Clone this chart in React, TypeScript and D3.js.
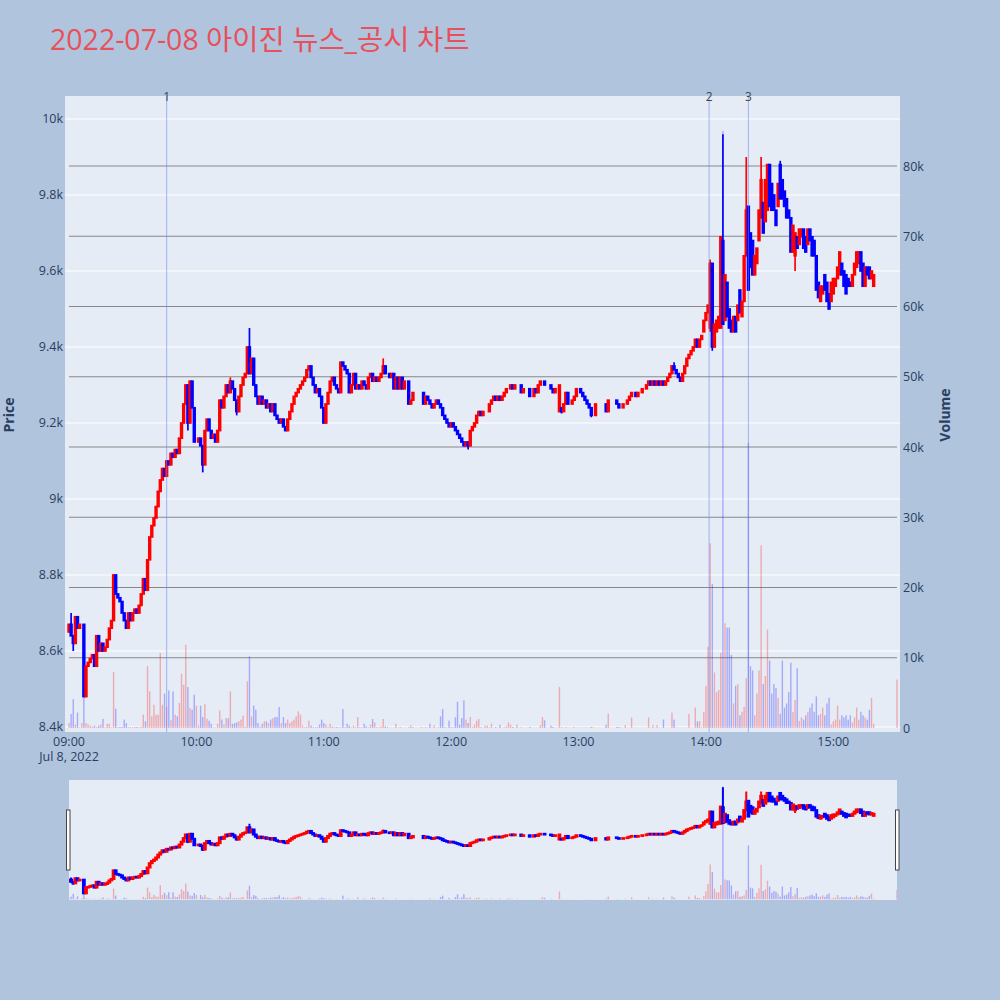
import React from "react";
import * as d3 from "d3";

// ---- Data: 1-minute candles from 09:00 (index = minutes after 09:00) ----
const TITLE = "2022-07-08 아이진 뉴스_공시 차트";
const SESSION_DATE = [2022, 6, 8];

const opens: number[] = [
  8650, 8670, 8640, 8620, 8690, 8660, 8670, 8670, 8480, 8560,
  8570, 8580, 8590, 8560, 8640, 8600, 8620, 8600, 8610, 8630,
  8660, 8680, 8800, 8750, 8740, 8730, 8700, 8680, 8660, 8700,
  8680, 8700, 8710, 8700, 8720, 8750, 8790, 8760, 8840, 8900,
  8930, 8950, 8980, 9020, 9050, 9080, 9060, 9100, 9090, 9120,
  9110, 9130, 9120, 9160, 9200, 9250, 9300, 9200, 9310, 9240,
  9150, 9150, 9160, 9140, 9090, 9180, 9210, 9180, 9160, 9170,
  9150, 9180, 9260, 9240, 9270, 9300, 9280, 9310, 9290, 9260,
  9230, 9270, 9300, 9320, 9330, 9400, 9330, 9370, 9300, 9270,
  9250, 9270, 9250, 9260, 9240, 9250, 9230, 9250, 9220, 9210,
  9200, 9210, 9190, 9180, 9210, 9230, 9250, 9270, 9280, 9290,
  9300, 9310, 9320, 9340, 9350, 9320, 9300, 9280, 9290, 9270,
  9240, 9200, 9250, 9280, 9310, 9320, 9300, 9290, 9280, 9360,
  9350, 9340, 9330, 9280, 9300, 9330, 9290, 9300, 9290, 9310,
  9300, 9290, 9320, 9330, 9310, 9320, 9310, 9320, 9330, 9350,
  9330, 9330, 9320, 9330, 9290, 9320, 9290, 9320, 9290, 9310,
  9310, 9250, 9260, 9280, 9280, 9280, 9280, 9280, 9250, 9270,
  9260, 9250, 9240, 9250, 9260, 9250, 9240, 9220, 9210, 9200,
  9190, 9200, 9190, 9180, 9170, 9160, 9150, 9140, 9150, 9140,
  9180, 9190, 9200, 9220, 9230, 9220, 9230, 9230, 9230, 9250,
  9260, 9270, 9260, 9270, 9260, 9270, 9280, 9290, 9290, 9300,
  9290, 9300, 9300, 9300, 9280, 9290, 9290, 9290, 9270, 9270,
  9290, 9280, 9300, 9310, 9310, 9300, 9300, 9300, 9290, 9280,
  9290, 9230, 9240, 9230, 9250, 9280, 9250, 9250, 9260, 9270,
  9290, 9290, 9280, 9270, 9260, 9250, 9240, 9220, 9220, 9250,
  9250, 9250, 9250, 9250, 9230, 9260, 9260, 9260, 9260, 9250,
  9240, 9240, 9250, 9250, 9260, 9270, 9280, 9280, 9270, 9280,
  9280, 9290, 9290, 9300, 9310, 9300, 9310, 9300, 9310, 9300,
  9310, 9300, 9310, 9320, 9330, 9350, 9340, 9330, 9320, 9310,
  9330, 9350, 9370, 9380, 9390, 9400, 9420, 9400, 9420, 9440,
  9470, 9490, 9450, 9620, 9400, 9440, 9450, 9450, 9680, 9470,
  9570, 9500, 9470, 9440, 9480, 9470, 9550, 9480, 9520, 9640,
  9770, 9700, 9680, 9590, 9620, 9680, 9740, 9780, 9730, 9760,
  9880, 9830, 9800, 9760, 9770, 9880, 9840, 9810, 9790, 9760,
  9740, 9650, 9640, 9690, 9670, 9690, 9710, 9690, 9670, 9710,
  9690, 9680, 9640, 9570, 9520, 9540, 9590, 9570, 9540, 9520,
  9540, 9560, 9580, 9590, 9620, 9600, 9590, 9580, 9570, 9560,
  9590, 9610, 9620, 9650, 9620, 9560, 9610, 9610, 9580, 9560,
];

const closes: number[] = [
  8670, 8640, 8620, 8690, 8660, 8670, 8670, 8480, 8560, 8570,
  8580, 8590, 8560, 8640, 8600, 8620, 8600, 8610, 8630, 8660,
  8680, 8800, 8750, 8740, 8730, 8700, 8680, 8660, 8700, 8680,
  8700, 8710, 8700, 8720, 8750, 8790, 8760, 8840, 8900, 8930,
  8950, 8980, 9020, 9050, 9080, 9060, 9100, 9090, 9120, 9110,
  9130, 9120, 9160, 9200, 9250, 9300, 9200, 9310, 9240, 9150,
  9150, 9160, 9140, 9090, 9180, 9210, 9180, 9160, 9170, 9150,
  9180, 9260, 9240, 9270, 9300, 9280, 9310, 9290, 9260, 9230,
  9270, 9300, 9320, 9330, 9400, 9330, 9370, 9300, 9270, 9250,
  9270, 9250, 9260, 9240, 9250, 9230, 9250, 9220, 9210, 9200,
  9210, 9190, 9180, 9210, 9230, 9250, 9270, 9280, 9290, 9300,
  9310, 9320, 9340, 9350, 9320, 9300, 9280, 9290, 9270, 9240,
  9200, 9250, 9280, 9310, 9320, 9300, 9290, 9280, 9360, 9350,
  9340, 9330, 9280, 9300, 9330, 9290, 9300, 9290, 9310, 9300,
  9290, 9320, 9330, 9310, 9320, 9310, 9320, 9330, 9350, 9330,
  9330, 9320, 9330, 9290, 9320, 9290, 9320, 9290, 9310, 9310,
  9250, 9260, 9280, 9280, 9280, 9280, 9280, 9250, 9270, 9260,
  9250, 9240, 9250, 9260, 9250, 9240, 9220, 9210, 9200, 9190,
  9200, 9190, 9180, 9170, 9160, 9150, 9140, 9150, 9140, 9180,
  9190, 9200, 9220, 9230, 9220, 9230, 9230, 9230, 9250, 9260,
  9270, 9260, 9270, 9260, 9270, 9280, 9290, 9290, 9300, 9290,
  9300, 9300, 9300, 9280, 9290, 9290, 9290, 9270, 9270, 9290,
  9280, 9300, 9310, 9310, 9300, 9300, 9300, 9290, 9280, 9290,
  9290, 9300, 9230, 9250, 9280, 9250, 9250, 9260, 9270, 9290,
  9290, 9280, 9270, 9260, 9250, 9240, 9220, 9220, 9250, 9250,
  9250, 9250, 9250, 9230, 9260, 9260, 9260, 9260, 9250, 9240,
  9240, 9250, 9250, 9260, 9270, 9280, 9280, 9270, 9280, 9280,
  9290, 9290, 9300, 9310, 9300, 9310, 9300, 9310, 9300, 9310,
  9300, 9310, 9320, 9330, 9350, 9340, 9330, 9320, 9310, 9330,
  9350, 9370, 9380, 9390, 9400, 9420, 9400, 9420, 9430, 9470,
  9490, 9510, 9620, 9400, 9460, 9470, 9480, 9690, 9460, 9590,
  9480, 9450, 9440, 9480, 9440, 9510, 9490, 9520, 9640, 9760,
  9550, 9610, 9590, 9640, 9660, 9760, 9840, 9700, 9840, 9880,
  9770, 9760, 9760, 9720, 9830, 9790, 9790, 9770, 9740, 9740,
  9650, 9720, 9700, 9660, 9710, 9710, 9660, 9650, 9710, 9680,
  9640, 9640, 9550, 9530, 9560, 9560, 9550, 9520, 9500, 9570,
  9580, 9580, 9610, 9650, 9590, 9560, 9540, 9560, 9560, 9590,
  9620, 9650, 9650, 9600, 9560, 9610, 9590, 9580, 9600, 9590,
];

const volumes: number[] = [
  700, 2000, 4100, 500, 2200, 100, 700, 4300, 700, 500,
  350, 200, 350, 150, 350, 500, 1300, 100, 600, 600,
  100, 8000, 2750, 100, 150, 150, 1200, 700, 150, 100,
  100, 150, 150, 100, 200, 1900, 950, 8800, 5200, 1660,
  3300, 1900, 1900, 10700, 3300, 4900, 3000, 5350, 1100, 5200,
  1900, 1660, 3550, 7700, 6160, 11850, 5830, 2840, 2600, 4740,
  3180, 350, 3180, 1560, 3400, 1330, 1040, 600, 100, 50,
  600, 2500, 1200, 500, 1400, 1400, 5200, 600, 700, 800,
  950, 1200, 1750, 200, 6640, 10200, 1660, 3180, 2600, 700,
  200, 600, 950, 950, 700, 1200, 1400, 1560, 1560, 3000,
  700, 1560, 700, 1200, 700, 950, 1200, 1660, 2370, 1900,
  350, 100, 200, 1040, 350, 100, 100, 150, 500, 1200,
  700, 500, 150, 600, 250, 100, 150, 100, 100, 2700,
  100, 600, 330, 100, 330, 100, 1560, 100, 100, 600,
  250, 100, 470, 1280, 800, 100, 100, 250, 1280, 250,
  150, 50, 50, 50, 600, 50, 150, 50, 50, 50,
  100, 380, 150, 50, 50, 50, 150, 50, 150, 50,
  600, 50, 380, 50, 100, 1660, 2700, 100, 50, 1040,
  150, 100, 1520, 3740, 470, 1420, 3930, 1180, 710, 1560,
  150, 470, 1040, 1280, 100, 50, 330, 330, 100, 620,
  50, 150, 50, 470, 50, 100, 240, 800, 470, 150,
  50, 470, 50, 100, 50, 50, 50, 150, 50, 50,
  50, 50, 380, 1560, 1090, 50, 50, 330, 150, 50,
  50, 5830, 100, 50, 150, 50, 50, 50, 150, 50,
  50, 50, 50, 50, 50, 50, 150, 150, 50, 50,
  50, 50, 50, 470, 2040, 50, 50, 50, 150, 150,
  50, 50, 400, 50, 50, 1500, 50, 50, 50, 50,
  50, 50, 50, 1500, 50, 400, 50, 400, 50, 50,
  1200, 50, 50, 50, 2200, 1200, 50, 50, 50, 50,
  50, 50, 2000, 50, 50, 2900, 950, 950, 100, 2300,
  6000, 11550, 26300, 20500, 7900, 5100, 5400, 10700, 85000, 14900,
  14300, 14300, 10400, 3500, 6000, 6250, 1800, 2300, 3000, 7100,
  40600, 8800, 8200, 1800, 4900, 8200, 26000, 6250, 7400, 14000,
  9600, 4900, 6250, 5700, 4300, 2000, 9600, 2900, 3500, 5100,
  9300, 2300, 4000, 8500, 1000, 1500, 1200, 1800, 2300, 2900,
  3500, 2300, 4500, 1800, 2000, 2900, 1800, 3500, 4300, 500,
  950, 1200, 3200, 1200, 1800, 1500, 1800, 1200, 1800, 800,
  1500, 2900, 1200, 2300, 1800, 1500, 1200, 2600, 4300, 600,
];

// wick extremes beyond the candle body: [minute index, price]
const wickHighs: [number, number][] = [
  [1, 8700], [76, 9320], [85, 9450], [148, 9370], [285, 9360],
  [302, 9630], [308, 9960], [319, 9900], [326, 9900], [335, 9890],
];
const wickLows: [number, number][] = [
  [2, 8600], [56, 9180], [63, 9070], [79, 9220], [188, 9130],
  [232, 9225], [246, 9215], [302, 9440], [303, 9390], [342, 9600], [358, 9500],
];

// closing single-price auction at 15:30
const closingAuction = { minute: 390, open: 9650, close: 9650, volume: 6900 };

// news / disclosure markers
const newsMarkers = [
  { label: "1", minute: 46 },
  { label: "2", minute: 301.5 },
  { label: "3", minute: 320 },
];

const priceTicks = [8400, 8600, 8800, 9000, 9200, 9400, 9600, 9800, 10000];
const volumeTicks = [10000, 20000, 30000, 40000, 50000, 60000, 70000, 80000];
const hourTicks = [0, 60, 120, 180, 240, 300, 360];

// ---- Layout constants ----
const BG = "#b0c4de";
const PLOT_BG = "#e5ecf6";
const TXT = "#2a3f5f";
const UP = "#ff0000";
const DOWN = "#0000ff";
const FONT = "'Open Sans', verdana, arial, sans-serif";

type Candle = { t: Date; o: number; h: number; l: number; c: number; v: number };

function buildCandles(): Candle[] {
  const hi = new Map(wickHighs);
  const lo = new Map(wickLows);
  const [Y, M, D] = SESSION_DATE;
  const list: Candle[] = closes.map((c, i) => {
    const o = opens[i];
    return {
      t: new Date(Y, M, D, 9, i),
      o,
      c,
      h: Math.max(o, c, hi.get(i) ?? -Infinity),
      l: Math.min(o, c, lo.get(i) ?? Infinity),
      v: volumes[i],
    };
  });
  list.push({
    t: new Date(Y, M, D, 9, closingAuction.minute),
    o: closingAuction.open,
    c: closingAuction.close,
    h: closingAuction.close,
    l: closingAuction.close,
    v: closingAuction.volume,
  });
  return list;
}

function fmtK(v: number) {
  if (v === 0) return "0";
  const k = v / 1000;
  return (Math.round(k * 10) / 10).toString() + "k";
}

function Series({ data, x, yP, yV, bodyW, wickW, volW }: any) {
  return (
    <g>
      <g>
        {data.map((d: Candle, i: number) => {
          const up = d.c >= d.o;
          const y0 = yV(0);
          const y1 = yV(d.v);
          return (
            <rect
              key={"v" + i}
              x={x(d.t) - volW / 2}
              y={y1}
              width={volW}
              height={Math.max(0, y0 - y1)}
              fill={up ? UP : DOWN}
              fillOpacity={0.28}
            />
          );
        })}
      </g>
      <g>
        {data.map((d: Candle, i: number) => {
          const up = d.c >= d.o;
          const col = up ? UP : DOWN;
          const cx = x(d.t);
          const top = yP(Math.max(d.o, d.c));
          const bot = yP(Math.min(d.o, d.c));
          return (
            <g key={"c" + i}>
              <line x1={cx} x2={cx} y1={yP(d.h)} y2={yP(d.l)} stroke={col} strokeWidth={wickW} />
              <rect
                x={cx - bodyW / 2}
                y={top}
                width={bodyW}
                height={Math.max(0, bot - top)}
                fill={col}
                stroke={col}
                strokeWidth={wickW}
              />
            </g>
          );
        })}
      </g>
    </g>
  );
}

export default function App() {
  const data = buildCandles();
  const [Y, M, D] = SESSION_DATE;
  const t = (m: number) => new Date(Y, M, D, 9, 0, Math.round(m * 60));

  const left = 65, right = 900, top = 96, bottom = 732;
  const x = d3.scaleTime().domain([t(0), t(390)]).range([69, 897]);
  const yP = d3.scaleLinear().domain([8386.8, 10060.5]).range([bottom, top]);
  const yV = d3.scaleLinear().domain([-569, 89965]).range([bottom, top]);

  const sTop = 780, sBot = 900;
  const yPs = yP.copy().range([sBot, sTop]);
  const yVs = yV.copy().range([sBot, sTop]);
  const timeFmt = d3.timeFormat("%H:%M");

  return (
    <svg
      width={1000}
      height={1000}
      style={{ position: "absolute", left: 0, top: 0, display: "block" }}
      fontFamily={FONT}
    >
      <defs>
        <clipPath id="mainClip">
          <rect x={left} y={top} width={right - left} height={bottom - top} />
        </clipPath>
        <clipPath id="sliderClip">
          <rect x={69} y={sTop} width={828} height={sBot - sTop} />
        </clipPath>
      </defs>
      <rect x={0} y={0} width={1000} height={1000} fill={BG} />

      <text
        x={50}
        y={50}
        fontSize={28.5}
        fill="#e8505b"
        fontFamily="'Open Sans', 'Noto Sans CJK KR', sans-serif"
      >
        {TITLE}
      </text>

      {/* main plot */}
      <rect x={left} y={top} width={right - left} height={bottom - top} fill={PLOT_BG} />
      {priceTicks.map((p) => (
        <line key={"pg" + p} x1={left} x2={right} y1={yP(p)} y2={yP(p)} stroke="#ffffff" strokeWidth={1} />
      ))}
      {volumeTicks.map((v) => (
        <line key={"vg" + v} x1={69} x2={897} y1={yV(v)} y2={yV(v)} stroke="#888888" strokeWidth={1} />
      ))}

      <g clipPath="url(#mainClip)">
        <Series data={data} x={x} yP={yP} yV={yV} bodyW={1.7} wickW={1.7} volW={1.4} />
      </g>

      {newsMarkers.map((n) => (
        <g key={"n" + n.label}>
          <line
            x1={x(t(n.minute))}
            x2={x(t(n.minute))}
            y1={top}
            y2={bottom}
            stroke="rgb(100,130,240)"
            strokeOpacity={0.55}
            strokeWidth={1}
          />
          <text x={x(t(n.minute))} y={101} textAnchor="middle" fontSize={12} fill="#444">
            {n.label}
          </text>
        </g>
      ))}

      {/* left price axis */}
      {priceTicks.map((p) => (
        <text key={"pt" + p} x={63} y={yP(p) + 4.5} textAnchor="end" fontSize={12.5} fill={TXT}>
          {fmtK(p)}
        </text>
      ))}
      {/* right volume axis */}
      {[0, ...volumeTicks].map((v) => (
        <text key={"vt" + v} x={903} y={yV(v) + 4.5} textAnchor="start" fontSize={12.5} fill={TXT}>
          {fmtK(v)}
        </text>
      ))}
      {/* time axis */}
      {hourTicks.map((m) => (
        <text key={"ht" + m} x={x(t(m))} y={746} textAnchor="middle" fontSize={12.5} fill={TXT}>
          {timeFmt(t(m))}
        </text>
      ))}
      <text x={x(t(0))} y={761} textAnchor="middle" fontSize={12.5} fill={TXT}>
        Jul 8, 2022
      </text>

      <text
        transform={`translate(14,415) rotate(-90)`}
        textAnchor="middle"
        fontSize={14}
        fontWeight="bold"
        fill={TXT}
      >
        Price
      </text>
      <text
        transform={`translate(950,415) rotate(-90)`}
        textAnchor="middle"
        fontSize={14}
        fontWeight="bold"
        fill={TXT}
      >
        Volume
      </text>

      {/* range slider */}
      <rect x={69} y={sTop} width={828} height={sBot - sTop} fill={PLOT_BG} />
      <g clipPath="url(#sliderClip)">
        <Series data={data} x={x} yP={yPs} yV={yVs} bodyW={1.8} wickW={2} volW={1.4} />
      </g>
      <rect x={66.5} y={810} width={3.5} height={60} fill="#ffffff" stroke="#444" strokeWidth={1} />
      <rect x={895.5} y={810} width={3.5} height={60} fill="#ffffff" stroke="#444" strokeWidth={1} />
    </svg>
  );
}
